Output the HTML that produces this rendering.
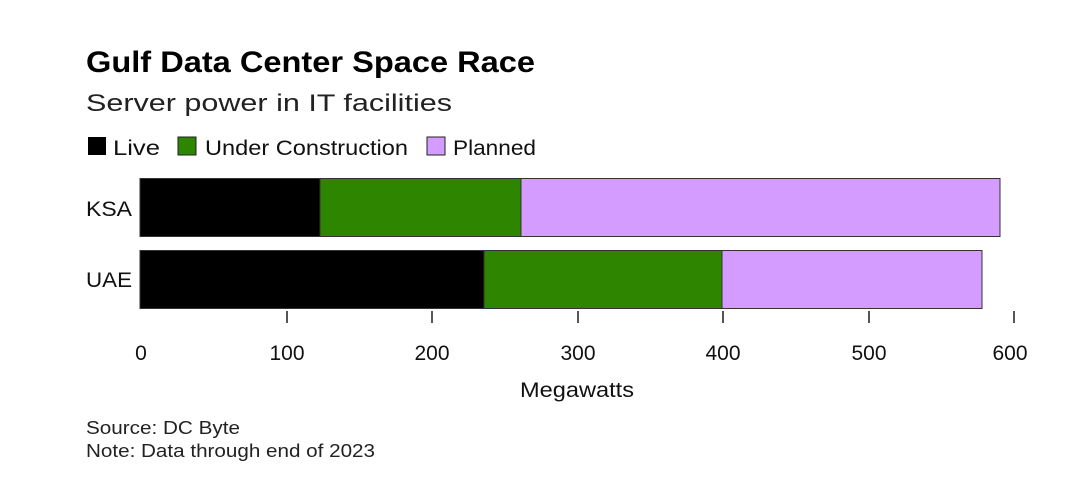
<!DOCTYPE html>
<html><head><style>
body{margin:0;background:#fff;width:1080px;height:477px;overflow:hidden;font-family:"Liberation Sans",Arial,sans-serif;}
</style></head><body>
<svg width="1080" height="477" xmlns="http://www.w3.org/2000/svg" font-family="Liberation Sans, Arial, sans-serif">
<rect width="1080" height="477" fill="#fff"/>
<text x="86" y="72" font-size="30" font-weight="bold" fill="#000" textLength="449" lengthAdjust="spacingAndGlyphs">Gulf Data Center Space Race</text>
<text x="86" y="111" font-size="24" fill="#222" textLength="366" lengthAdjust="spacingAndGlyphs">Server power in IT facilities</text>
<rect x="88" y="137" width="18" height="18" fill="#000"/>
<text x="113" y="155" font-size="21" fill="#111" textLength="47" lengthAdjust="spacingAndGlyphs">Live</text>
<rect x="178" y="137" width="18" height="18" fill="#2e8500" stroke="#222" stroke-width="1"/>
<text x="205" y="155" font-size="21" fill="#111" textLength="203" lengthAdjust="spacingAndGlyphs">Under Construction</text>
<rect x="427" y="137" width="18" height="18" fill="#d49cff" stroke="#222" stroke-width="1"/>
<text x="453" y="155" font-size="21" fill="#111" textLength="83" lengthAdjust="spacingAndGlyphs">Planned</text>
<text x="86" y="216" font-size="21" fill="#111" textLength="46" lengthAdjust="spacingAndGlyphs">KSA</text>
<text x="86" y="287" font-size="21" fill="#111" textLength="46" lengthAdjust="spacingAndGlyphs">UAE</text>
<g stroke="#333" stroke-width="1">
<rect x="140" y="178.5" width="180" height="58" fill="#000"/>
<rect x="320" y="178.5" width="201" height="58" fill="#2e8500"/>
<rect x="521" y="178.5" width="479" height="58" fill="#d49cff"/>
<rect x="140" y="250.5" width="344" height="58" fill="#000"/>
<rect x="484" y="250.5" width="238" height="58" fill="#2e8500"/>
<rect x="722" y="250.5" width="260" height="58" fill="#d49cff"/>
</g>
<g stroke="#555" stroke-width="2">
<line x1="287" y1="311" x2="287" y2="323"/><line x1="432" y1="311" x2="432" y2="323"/>
<line x1="578" y1="311" x2="578" y2="323"/><line x1="723" y1="311" x2="723" y2="323"/>
<line x1="869" y1="311" x2="869" y2="323"/><line x1="1014" y1="311" x2="1014" y2="323"/>
</g>
<g font-size="21" fill="#111" text-anchor="middle">
<text x="141" y="360">0</text><text x="287" y="360">100</text><text x="432" y="360">200</text>
<text x="578" y="360">300</text><text x="723" y="360">400</text><text x="869" y="360">500</text><text x="1010" y="360">600</text>
</g>
<text x="520" y="397" font-size="21" fill="#111" textLength="114" lengthAdjust="spacingAndGlyphs">Megawatts</text>
<text x="86" y="434" font-size="18" fill="#222" textLength="154" lengthAdjust="spacingAndGlyphs">Source: DC Byte</text>
<text x="86" y="457" font-size="18" fill="#222" textLength="289" lengthAdjust="spacingAndGlyphs">Note: Data through end of 2023</text>
</svg>
</body></html>
